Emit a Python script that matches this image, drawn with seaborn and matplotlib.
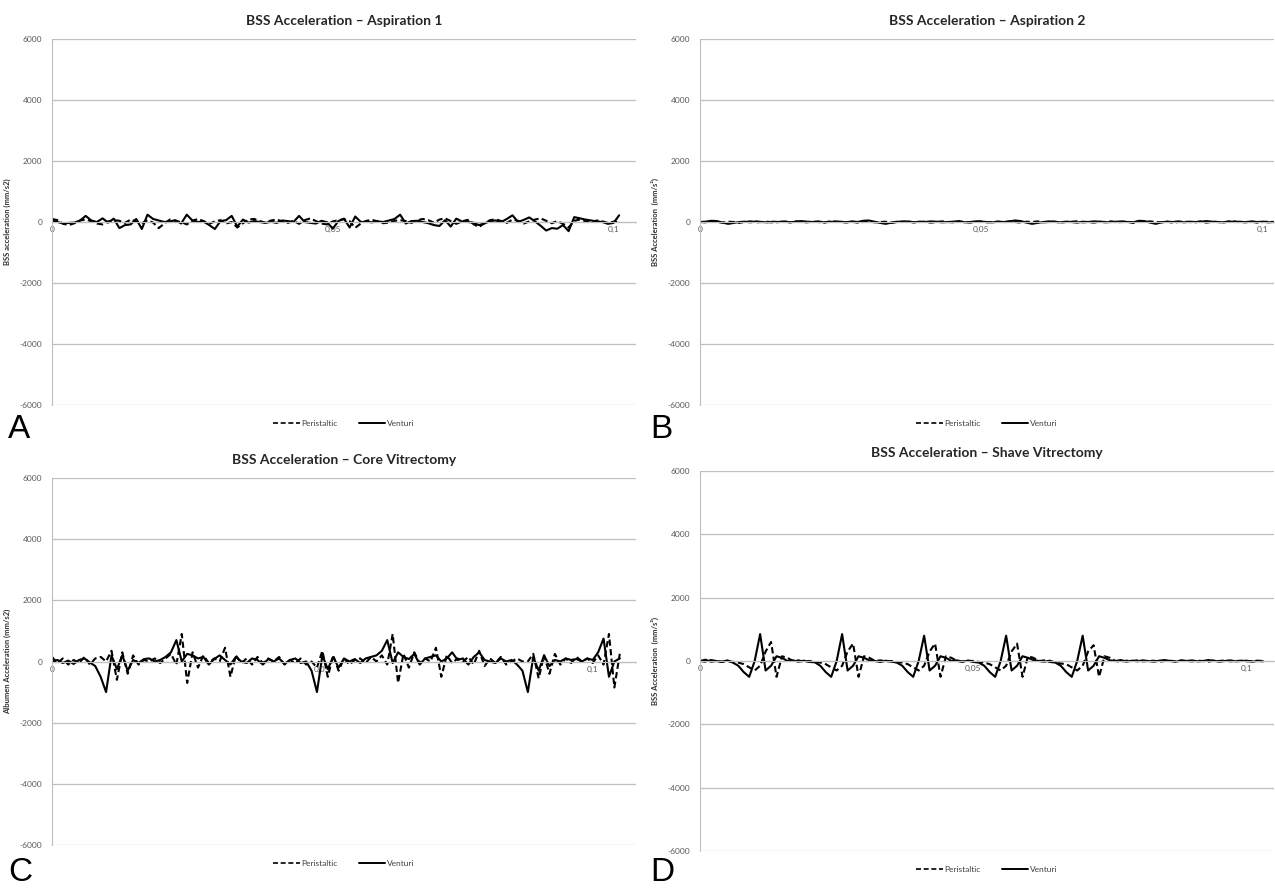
import numpy as np
import pandas as pd
import matplotlib
matplotlib.use("Agg")
import matplotlib.pyplot as plt
from matplotlib.lines import Line2D
import seaborn as sns

# sampled every 1 ms (values in mm/s^2)
asp1_peristaltic = [100, 60, -60, -100, -40, 50, 80, 30, -50, -80, 20, 60, 40, -30, 80, 20, -40, 60, -20, -200,
                    -50, 80, 30, 0, -80, 40, 100, 30, -60, 20, 60, -50, 0, -180, -40, 80, 100, 30, -20, 50,
                    80, 20, -30, 40, -60, 60, 120, 30, -50, -80, 20, 60, 90, 30, -190, -50, 40, 70, 20, -40,
                    -20, 40, 60, 30, -30, 50, 100, 60, -20, 80, 120, 30, -60, 20, 70, -60, -170, -40, 60, 90,
                    30, -30, 80, 40, -50, 20, 80, 120, 40, -40, 30, -60, -180, 40, 80, 30, -20, 50, 20, -30,
                    10, 0]
asp1_venturi = [50, 0, -50, -30, -20, 50, 200, 50, 0, 120, -20, 110, -200, -100, -80, 100, -230, 240, 100, 50,
                0, 20, 60, -50, 240, 50, 0, 10, -100, -230, 30, 60, 200, -150, 80, -20, 30, 0, -30, 10,
                -30, 50, 30, 0, 200, 0, -30, -50, 40, -10, -220, 30, 110, -180, 180, 0, 10, -10, 20, 0,
                50, 100, 240, -50, 30, 40, 0, -40, -100, -130, 60, -150, 110, 20, 0, -20, -100, -50, 30, 50,
                0, 100, 220, 0, 70, 150, 20, -120, -280, -200, -220, -100, -300, 160, 120, 80, 50, 20, 0, -60,
                -30, 220]

asp2_peristaltic = [0, -10, 20, 0, -20, 10, 0, -30, 10, 20, -10, 0, 10, -20, 0, 10, -10, 20, 0, -10,
                    10, 0, -20, 10, 20, 0, -10, 10, -20, 0, 20, -10, 0, 10, -30, 0, 20, 10, -10, 0,
                    10, -20, 0, 20, 0, -10, 10, 0, -20, 10, 20, -10, 0, 10, -10, 20, 0, -20, 10, 0,
                    20, -10, 0, 10, -20, 0, 10, 20, -10, 0, -20, 10, 0, 20, -10, 0, 10, -30, 10, 0,
                    20, 0, -10, 10, -20, 0, 10, 0, -10, 20, -20, 10, 0, -10, 10, 20, -10, 0, 10, -20,
                    0, 10, 0]
asp2_venturi = [0, 10, 40, 30, -20, -60, -30, 0, 10, -10, 20, 0, -10, 10, 0, 20, -10, 10, 30, 10,
                0, 20, -10, 10, 0, 10, -10, 20, 0, 40, 50, 10, -30, -60, -20, 10, 0, 20, -10, 10,
                0, 20, 10, -10, 0, 10, 30, -10, 0, 20, 10, 0, -10, 10, 0, 20, 50, 30, -20, -60,
                -30, 0, 20, 10, -10, 10, 0, -20, 10, 0, 20, 10, -10, 0, 10, 20, 0, -10, 40, 30,
                -20, -60, -10, 10, 0, 20, -10, 10, 0, 10, 30, 10, 0, -10, 20, 0, 10, -10, 20, 0,
                10, -10, 0]

core_peristaltic = [150, -50, 100, -100, 50, -50, 150, -100, 100, 150, 0, 350, -600, 300, -400, 200, -100, 50, 0, 100,
                    -50, 100, 250, -100, 900, -700, 300, -200, 200, -50, 100, 0, 450, -500, 200, -50, 100, -100, 150, -50,
                    100, 0, 150, -100, 50, -50, 100, -100, 0, -200, 350, -500, 200, -300, 100, -100, 50, 100, -50, 150,
                    0, 200, -100, 900, -700, 250, -200, 300, -50, 100, 0, 450, -500, 200, -50, 100, 0, 150, -100, 350,
                    -150, 100, -50, 150, -100, 0, 100, 0, 0, 250, -550, 200, -400, 250, -100, 100, -50, 150, 0, 100,
                    -50, 200, -100, 900, -850, 250]
core_venturi = [0, 50, -50, 30, -80, 50, 100, -30, -150, -500, -1000, 200, -250, 200, -300, 50, -50, 80, 100, 0,
                50, 150, 300, 700, 0, 250, 200, 100, 150, -100, 80, 200, 50, -100, 150, 0, -50, 100, 50, -100,
                80, 0, 100, -80, 50, 100, -50, 0, -300, -1000, 200, -250, 150, -200, 100, 0, 80, -50, 100, 150,
                200, 350, 700, -50, 300, 150, 80, 250, -100, 100, 150, 200, 0, 100, 300, 50, 100, -100, 150, 300,
                50, 0, -50, 100, 0, 50, -100, -300, -1000, 150, -300, 200, -150, 50, 0, 100, 50, 80, 0, 100,
                50, 300, 750, -500, 0, 100]

shave_peristaltic = [0, -20, 30, 0, -20, 0, -30, -50, -100, -200, -300, -150, 300, 600, -500, 150, 100, 0, 20, -20,
                     0, -30, -50, -100, -200, -300, -150, 300, 550, -500, 150, 100, 0, 20, -10, 0, -30, -50, -100, -200,
                     -300, -150, 300, 550, -500, 150, 100, 0, -20, 10, 0, -30, -50, -100, -200, -300, -150, 300, 550, -500,
                     150, 100, 0, 20, -30, -50, -80, -100, -200, -300, -150, 300, 500, -500, 150, 100, 0, -20, 10, 0,
                     20, -10, 0, 10, -20, 0, 10, -10, 20, 0, -10, 10, 0, -20, 10, 0, 20, -10, 0, 10,
                     -10, 0, 10, 0]
shave_venturi = [0, 40, -20, 0, -30, 20, -50, -150, -350, -500, 0, 850, -300, -150, 150, 100, 0, 20, -20, 10,
                 -30, -40, -150, -350, -500, 0, 850, -300, -150, 150, 100, 20, 0, -30, 10, -20, -50, -150, -350, -500,
                 0, 800, -300, -150, 150, 100, 0, 20, -20, 10, -30, -50, -150, -350, -500, 0, 800, -300, -150, 150,
                 100, 30, 0, -20, 10, -50, -150, -350, -500, 0, 800, -300, -150, 150, 100, 20, 0, 30, -20, 10,
                 -10, 20, 0, -20, 10, 30, 0, -20, 10, 0, 20, -10, 0, 30, 10, -20, 0, 20, -10, 0,
                 10, -20, 0, -10]

titles = ["BSS Acceleration \u2013 Aspiration 1", "BSS Acceleration \u2013 Aspiration 2",
          "BSS Acceleration \u2013 Core Vitrectomy", "BSS Acceleration \u2013 Shave Vitrectomy"]
ylabels = ["BSS acceleration (mm/s2)", "BSS Acceleration  (mm/s\u00b2)",
           "Albumen Acceleration (mm/s2)", "BSS Acceleration  (mm/s\u00b2)"]
letters = ["A", "B", "C", "D"]
yticks = [-6000, -4000, -2000, 0, 2000, 4000, 6000]
xticks = [0, 0.05, 0.1]
xticklabels = ["0", "0,05", "0,1"]

sns.set_style("white")
plt.rcParams['font.family'] = ['Lato', 'DejaVu Sans']

fig = plt.figure(figsize=(12.75, 8.88), dpi=100)
W, H = 1275, 888
# left, top, right, bottom in pixels, xmax
panels = [
    (asp1_peristaltic, asp1_venturi, (52, 39, 636, 405), 0.104),
    (asp2_peristaltic, asp2_venturi, (700, 39, 1274, 405), 0.102),
    (core_peristaltic, core_venturi, (52, 478, 636, 845), 0.108),
    (shave_peristaltic, shave_venturi, (700, 471, 1274, 851), 0.105),
]
grid_col = '#bfbfbf'
text_col = '#595959'

for i, (peri, vent, box, xmax) in enumerate(panels):
    l, t, r, b = box
    ax = fig.add_axes([l / W, 1 - b / H, (r - l) / W, (b - t) / H])
    df = pd.concat([
        pd.DataFrame({'time': np.arange(len(peri)) / 1000, 'acc': peri, 'mode': 'Peristaltic'}),
        pd.DataFrame({'time': np.arange(len(vent)) / 1000, 'acc': vent, 'mode': 'Venturi'}),
    ])
    sns.lineplot(data=df, x='time', y='acc', style='mode', color='black',
                 dashes={'Peristaltic': (3, 1.6), 'Venturi': ''},
                 estimator=None, sort=False, legend=False, ax=ax, linewidth=1.5)
    ax.set_xlim(0, xmax)
    ax.set_ylim(-6000, 6000)
    ax.set_yticks(yticks)
    ax.set_yticklabels([str(v) for v in yticks])
    ax.set_xticks(xticks)
    ax.set_xticklabels(xticklabels)
    ax.yaxis.grid(True, color=grid_col, linewidth=0.9)
    ax.set_axisbelow(True)
    for s in ['top', 'right']:
        ax.spines[s].set_visible(False)
    ax.spines['left'].set_color(grid_col)
    ax.spines['bottom'].set_color(grid_col)
    ax.spines['bottom'].set_position(('data', 0))
    ax.tick_params(axis='both', length=0, labelsize=6, labelcolor=text_col)
    ax.tick_params(axis='y', pad=7)
    ax.tick_params(axis='x', pad=3)
    ax.set_xlabel('')
    ax.set_ylabel(ylabels[i], fontsize=5.5, fontweight='bold', color='#303030', labelpad=6)
    ax.set_title(titles[i], fontsize=10, fontweight='bold', color='#262626', pad=10)
    handles = [Line2D([], [], color='black', lw=1.2, dashes=(3, 1.6)),
               Line2D([], [], color='black', lw=1.4)]
    ax.legend(handles, ['Peristaltic', 'Venturi'], loc='upper center', bbox_to_anchor=(0.5, -0.02),
              ncol=2, frameon=False, fontsize=6, handlelength=3.2, handletextpad=0.2,
              columnspacing=2.5, labelcolor='#404040')
    lx = 8 if l < 600 else 650
    base = 438 if b < 600 else 881
    fig.text(lx / W, 1 - base / H, letters[i], fontsize=24, family='Liberation Sans',
             color='black', va='baseline', ha='left')

fig.savefig('out.png', dpi=100)
